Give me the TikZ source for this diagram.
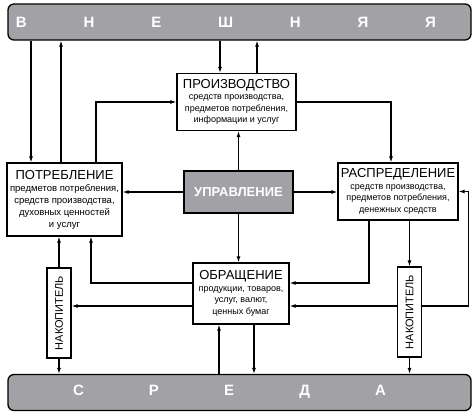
\documentclass[tikz,border=0pt]{standalone}
\usepackage{fontspec}
\setmainfont{Liberation Sans}
\usetikzlibrary{arrows.meta}
\definecolor{bargray}{HTML}{A2A2A6}
\newcommand{\boxtitle}[1]{{\fontsize{13}{15}\selectfont #1}}

\begin{document}
\begin{tikzpicture}[x=1pt, y=-1pt, line width=1.1pt,
    every node/.style={font=\fontsize{9}{11.5}\selectfont},
    box/.style={draw, fill=white, line width=1.3pt, inner sep=1pt, align=center},
    bar/.style={draw, fill=bargray, rounded corners=6pt, line width=1.3pt, minimum width=463pt, minimum height=36pt},
    barword/.style={text=white, font=\bfseries\fontsize{15}{15}\selectfont},
    arr/.style={-{Latex[length=6pt,width=4pt]}}]
        \useasboundingbox (0,0) rectangle (476,416);

        \node[bar] (vneshn) at (239.5,22) {};
        \node[barword] (vneshnw) at (226,22) {\makebox[420pt]{В\hfill Н\hfill Е\hfill Ш\hfill Н\hfill Я\hfill Я}};
        \node[bar] (sreda) at (239.5,392.5) {};
        \node[barword] (sredaw) at (229.5,391.5) {\makebox[313pt]{С\hfill Р\hfill Е\hfill Д\hfill А}};

        \node[box, minimum width=119pt, minimum height=57pt] (proizv) at (236.5,102)
            {\boxtitle{ПРОИЗВОДСТВО}\\средств производства,\\предметов потребления,\\информации и услуг};
        \node[box, minimum width=115pt, minimum height=73pt, font=\fontsize{9.5}{12}\selectfont] (potr) at (64.5,199.5)
            {\boxtitle{ПОТРЕБЛЕНИЕ}\\предметов потребления,\\средств производства,\\духовных ценностей\\и услуг};
        \node[box, minimum width=120pt, minimum height=57pt] (raspr) at (398,191.5)
            {\boxtitle{РАСПРЕДЕЛЕНИЕ}\\средств производства,\\предметов потребления,\\денежных средств};
        \node[box, fill=bargray, minimum width=109pt, minimum height=42pt, text=white,
            font=\bfseries\fontsize{13}{15}\selectfont] (upr) at (238.5,192) {УПРАВЛЕНИЕ};
        \node[box, minimum width=96pt, minimum height=61pt] (obr) at (241,293.5)
            {\boxtitle{ОБРАЩЕНИЕ}\\продукции, товаров,\\услуг, валют,\\ценных бумаг};
        \node[box, minimum width=24pt, minimum height=90pt, font=\fontsize{11}{12}\selectfont] (nakl) at (59,313)
            {\rotatebox{90}{НАКОПИТЕЛЬ}};
        \node[box, minimum width=24pt, minimum height=90pt, font=\fontsize{11}{12}\selectfont] (nakr) at (409.5,312)
            {\rotatebox{90}{НАКОПИТЕЛЬ}};

        \draw[arr] (vneshn.south -| 31,0) -- (potr.north -| 31,0);
        \draw[arr] (potr.north -| 61,0) -- (vneshn.south -| 61,0);
        \draw[arr] (potr.north -| 96,0) |- (proizv.west);
        \draw[arr] (vneshn.south -| 220,0) -- (proizv.north -| 220,0);
        \draw[arr] (proizv.north -| 257,0) -- (vneshn.south -| 257,0);
        \draw[arr] (proizv.east) -| (raspr.north -| 391,0);
        \draw[arr] (upr.north) -- (proizv.south -| upr.north);
        \draw[arr] (upr.west) -- (potr.east |- upr.west);
        \draw[arr] (upr.east) -- (raspr.west |- upr.east);
        \draw[arr] (upr.south) -- (obr.north -| upr.south);
        \draw[arr] (raspr.south -| 369,0) |- (obr.east |- 0,283);
        \draw[arr] (raspr.south -| nakr.north) -- (nakr.north);
        \draw[arr] (nakr.south) -- (sreda.north -| nakr.south);
        \draw[arr] (nakr.east |- 0,306) -| ([xshift=10pt]raspr.east) -- (raspr.east);
        \draw[arr] (nakr.west |- 0,306) -- (obr.east |- 0,306);
        \draw[arr] (obr.west |- 0,283) -| (potr.south -| 91,0);
        \draw[arr] (obr.west |- 0,306) -- (nakl.east |- 0,306);
        \draw[arr] (nakl.north) -- (potr.south -| nakl.north);
        \draw[arr] (nakl.south) -- (sreda.north -| nakl.south);
        \draw[arr] (sreda.north -| 219,0) -- (obr.south -| 219,0);
        \draw[arr] (obr.south -| 254,0) -- (sreda.north -| 254,0);
      \end{tikzpicture}
\end{document}
